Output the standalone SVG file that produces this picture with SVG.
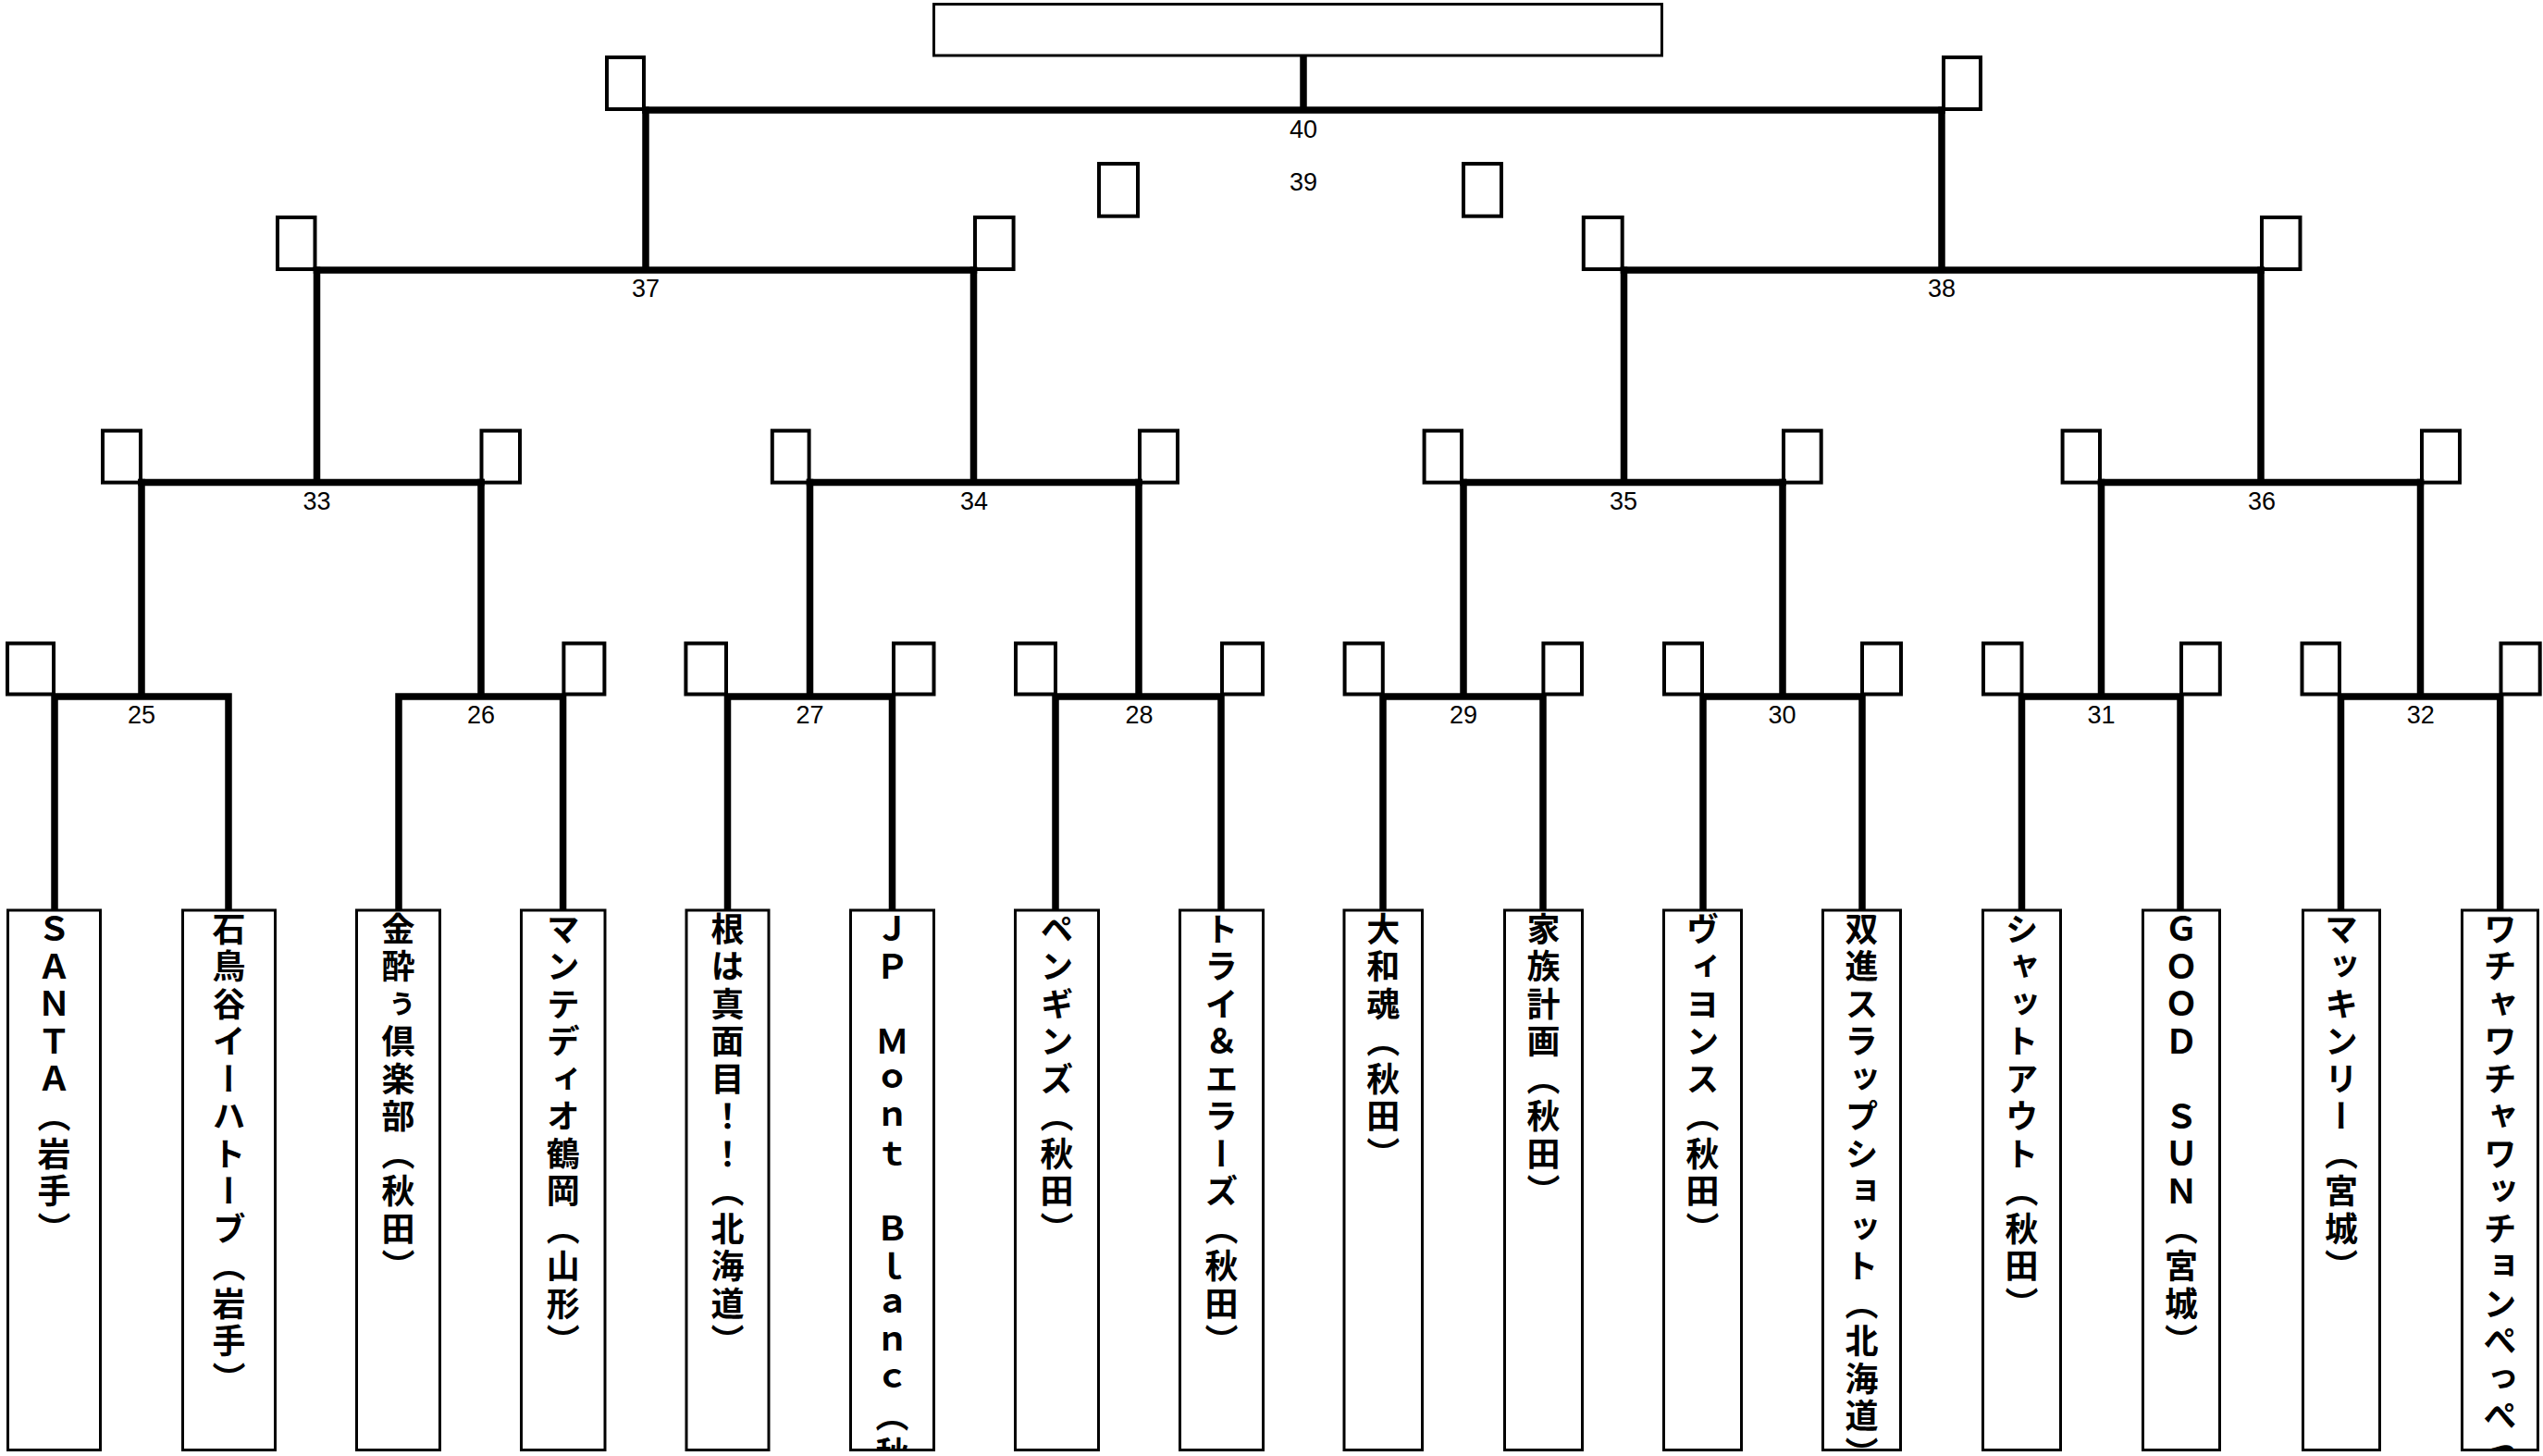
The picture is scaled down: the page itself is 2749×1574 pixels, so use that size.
<svg xmlns="http://www.w3.org/2000/svg" width="2749" height="1574" viewBox="0 0 2749 1574">
<style>
.c{fill:none;stroke:#000;stroke-width:7.5;stroke-linecap:square;stroke-linejoin:miter}
.b{fill:none;stroke:#000;stroke-width:4}
.t{fill:#fff;stroke:#000;stroke-width:3}
.n{font-family:"Liberation Sans",Arial,sans-serif;font-size:27px;text-anchor:middle;fill:#000}
.v{font-family:"Noto Sans CJK JP","Noto Sans CJK SC",sans-serif;font-size:36px;font-weight:bold;writing-mode:vertical-rl;letter-spacing:4.5px;fill:#000}
</style>
<defs>
<clipPath id="clip6"><rect x="919.5" y="984" width="90" height="583.5"/></clipPath>
<clipPath id="clip12"><rect x="1970.5" y="984" width="84" height="583.5"/></clipPath>
<clipPath id="clip16"><rect x="2661.5" y="984" width="82" height="583.5"/></clipPath>
</defs>
<rect width="2749" height="1574" fill="#fff"/>
<g id="connectors">
<path class="c" d="M59 983V753H247V983M153 753V521.5"/>
<path class="c" d="M431 983V753H608.6V983M520 753V521.5"/>
<path class="c" d="M786.5 983V753H964.5V983M875.5 753V521.5"/>
<path class="c" d="M1141 983V753H1320V983M1231 753V521.5"/>
<path class="c" d="M1495 983V753H1668V983M1582 753V521.5"/>
<path class="c" d="M1841 983V753H2013V983M1927 753V521.5"/>
<path class="c" d="M2185.5 983V753H2357V983M2271.5 753V521.5"/>
<path class="c" d="M2530.5 983V753H2702.7V983M2616.5 753V521.5"/>
<path class="c" d="M153 521.5H520M342.5 521.5V292"/>
<path class="c" d="M875.5 521.5H1231M1052.5 521.5V292"/>
<path class="c" d="M1582 521.5H1927M1755.5 521.5V292"/>
<path class="c" d="M2271.5 521.5H2616.5M2444 521.5V292"/>
<path class="c" d="M342.5 292H1052.5M698 292V119"/>
<path class="c" d="M1755.5 292H2444M2099 292V119"/>
<path class="c" d="M698 119H2099M1409 119V61.5"/>
</g>
<g id="champion"><rect class="t" x="1009.5" y="4.5" width="787" height="55.5"/></g>
<g id="m40"><rect class="b" x="656" y="62" width="40" height="56"/><rect class="b" x="2101" y="62" width="40" height="56"/><text class="n" x="1409" y="148.5">40</text></g>
<g id="m39"><rect class="b" x="1188" y="177" width="42" height="56.7"/><rect class="b" x="1582" y="177" width="41" height="56.7"/><text class="n" x="1409" y="205.5">39</text></g>
<g id="m37"><rect class="b" x="300" y="235" width="40.5" height="56"/><rect class="b" x="1054" y="235" width="41.6" height="56"/><text class="n" x="698" y="320.5">37</text></g>
<g id="m38"><rect class="b" x="1711.8" y="235" width="41.9" height="56"/><rect class="b" x="2445" y="235" width="41.5" height="56"/><text class="n" x="2099" y="320.5">38</text></g>
<g id="m33"><rect class="b" x="111" y="465.6" width="41" height="56"/><rect class="b" x="520.5" y="465.6" width="41.5" height="56"/><text class="n" x="342.5" y="550.7">33</text></g>
<g id="m34"><rect class="b" x="834.8" y="465.6" width="39.8" height="56"/><rect class="b" x="1232" y="465.6" width="41" height="56"/><text class="n" x="1053" y="550.7">34</text></g>
<g id="m35"><rect class="b" x="1539.6" y="465.6" width="40.4" height="56"/><rect class="b" x="1928" y="465.6" width="40.7" height="56"/><text class="n" x="1755" y="550.7">35</text></g>
<g id="m36"><rect class="b" x="2229.6" y="465.6" width="40.4" height="56"/><rect class="b" x="2618" y="465.6" width="41" height="56"/><text class="n" x="2445" y="550.7">36</text></g>
<g id="m25"><rect class="b" x="8" y="695.5" width="50" height="55"/><text class="n" x="153" y="781.5">25</text></g>
<g id="m26"><rect class="b" x="609.4" y="695.5" width="44" height="55"/><text class="n" x="520" y="781.5">26</text></g>
<g id="m27"><rect class="b" x="741.4" y="695.5" width="43.6" height="55"/><rect class="b" x="966" y="695.5" width="43.5" height="55"/><text class="n" x="875.5" y="781.5">27</text></g>
<g id="m28"><rect class="b" x="1098" y="695.5" width="43" height="55"/><rect class="b" x="1321" y="695.5" width="44" height="55"/><text class="n" x="1231.5" y="781.5">28</text></g>
<g id="m29"><rect class="b" x="1453.6" y="695.5" width="41.2" height="55"/><rect class="b" x="1668.4" y="695.5" width="41.6" height="55"/><text class="n" x="1582" y="781.5">29</text></g>
<g id="m30"><rect class="b" x="1799" y="695.5" width="41" height="55"/><rect class="b" x="2013" y="695.5" width="42" height="55"/><text class="n" x="1926.5" y="781.5">30</text></g>
<g id="m31"><rect class="b" x="2144" y="695.5" width="41.5" height="55"/><rect class="b" x="2358" y="695.5" width="41.8" height="55"/><text class="n" x="2271.5" y="781.5">31</text></g>
<g id="m32"><rect class="b" x="2488.5" y="695.5" width="40.5" height="55"/><rect class="b" x="2703.5" y="695.5" width="42.2" height="55"/><text class="n" x="2616.8" y="781.5">32</text></g>
<g id="team1"><rect class="t" x="8.5" y="984" width="100" height="583.5"/><text class="v" x="58.5" y="986">ＳＡＮＴＡ（岩手）</text></g>
<g id="team2"><rect class="t" x="197.5" y="984" width="100" height="583.5"/><text class="v" x="247.5" y="986">石鳥谷イーハトーブ（岩手）</text></g>
<g id="team3"><rect class="t" x="385.5" y="984" width="90" height="583.5"/><text class="v" x="430.5" y="986">金酔ぅ倶楽部（秋田）</text></g>
<g id="team4"><rect class="t" x="563.5" y="984" width="90.5" height="583.5"/><text class="v" x="608.7" y="986">マンテディオ鶴岡（山形）</text></g>
<g id="team5"><rect class="t" x="742" y="984" width="89" height="583.5"/><text class="v" x="786.5" y="986">根は真面目！！（北海道）</text></g>
<g id="team6"><rect class="t" x="919.5" y="984" width="90" height="583.5"/><text class="v" x="964.5" y="986" clip-path="url(#clip6)">ＪＰ　Ｍｏｎｔ　Ｂｌａｎｃ（秋田）</text></g>
<g id="team7"><rect class="t" x="1097.5" y="984" width="90" height="583.5"/><text class="v" x="1142.5" y="986">ペンギンズ（秋田）</text></g>
<g id="team8"><rect class="t" x="1275.5" y="984" width="90" height="583.5"/><text class="v" x="1320.5" y="986">トライ＆エラーズ（秋田）</text></g>
<g id="team9"><rect class="t" x="1453" y="984" width="84.5" height="583.5"/><text class="v" x="1495.3" y="986">大和魂（秋田）</text></g>
<g id="team10"><rect class="t" x="1626.5" y="984" width="84" height="583.5"/><text class="v" x="1668.5" y="986">家族計画（秋田）</text></g>
<g id="team11"><rect class="t" x="1798.5" y="984" width="84" height="583.5"/><text class="v" x="1840.5" y="986">ヴィヨンス（秋田）</text></g>
<g id="team12"><rect class="t" x="1970.5" y="984" width="84" height="583.5"/><text class="v" x="2012.5" y="986" clip-path="url(#clip12)">双進スラップショット（北海道）</text></g>
<g id="team13"><rect class="t" x="2143.5" y="984" width="84" height="583.5"/><text class="v" x="2185.5" y="986">シャットアウト（秋田）</text></g>
<g id="team14"><rect class="t" x="2316.5" y="984" width="83" height="583.5"/><text class="v" x="2358" y="986">ＧＯＯＤ　ＳＵＮ（宮城）</text></g>
<g id="team15"><rect class="t" x="2489.5" y="984" width="83" height="583.5"/><text class="v" x="2531" y="986">マッキンリー（宮城）</text></g>
<g id="team16"><rect class="t" x="2661.5" y="984" width="82" height="583.5"/><text class="v" x="2702.5" y="986" clip-path="url(#clip16)">ワチャワチャワッチョンぺっぺっ</text></g>
</svg>
